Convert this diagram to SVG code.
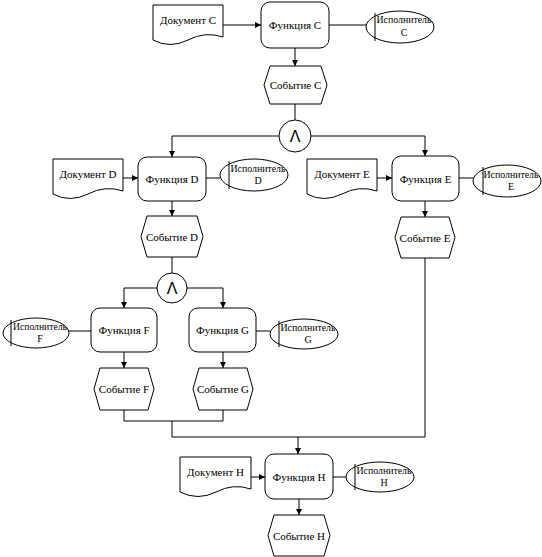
<svg xmlns="http://www.w3.org/2000/svg" width="542" height="557" viewBox="0 0 542 557">
<defs>
<marker id="ah" markerUnits="userSpaceOnUse" markerWidth="8" markerHeight="8" refX="7" refY="4" orient="auto">
<path d="M1,1 L7,4 L1,7 Z" fill="#000"/>
</marker>
<style>
.s{fill:#fff;stroke:#000;stroke-width:1}
.c{fill:none;stroke:#000;stroke-width:1}
.a{fill:none;stroke:#000;stroke-width:1;marker-end:url(#ah)}
text{font-family:"Liberation Serif","Times New Roman",serif;font-size:11px;fill:#000;text-anchor:middle}
.e{font-size:10px}
.and{font-family:"Liberation Sans",Arial,sans-serif;font-size:16px}
</style>
</defs>
<rect width="542" height="557" fill="#fff"/>
<g id="connectors">
<path class="a" d="M223,25 H261"/>
<path class="c" d="M329,25 H366"/>
<path class="a" d="M295,48 V66"/>
<path class="c" d="M295,104 V120"/>
<path class="a" d="M279,136 H172 V157"/>
<path class="a" d="M311,136 H425 V156"/>
<path class="a" d="M123,178 H138"/>
<path class="c" d="M206,178 H220"/>
<path class="a" d="M172,201 V216"/>
<path class="c" d="M172,257 V273"/>
<path class="a" d="M377,178 H392"/>
<path class="c" d="M459,178 H473"/>
<path class="a" d="M425,201 V217"/>
<path class="a" d="M157,288 H124 V308"/>
<path class="a" d="M187,288 H223 V308"/>
<path class="c" d="M69,331 H91"/>
<path class="c" d="M256,331 H270"/>
<path class="a" d="M124,352 V368"/>
<path class="a" d="M223,352 V368"/>
<path class="c" d="M124,410 V421 H223 V410"/>
<path class="c" d="M172,421 V437 H425 V258"/>
<path class="a" d="M298,437 V454"/>
<path class="a" d="M251,477 H265"/>
<path class="c" d="M333,477 H346"/>
<path class="a" d="M299,499 V515"/>
</g>
<g id="docC"><path class="s" d="M153,5 H223 V37 Q205,31 188,40 Q170,49 153,40 Z"/><text x="188" y="24">Документ C</text></g>
<g id="funcC"><rect class="s" x="261" y="2" width="68" height="46" rx="9"/><text x="295" y="29">Функция C</text></g>
<g id="execC"><ellipse class="s" cx="400" cy="27" rx="34" ry="16"/><path class="c" d="M375,13 V41"/><text class="e" x="404" y="23" textLength="55" lengthAdjust="spacingAndGlyphs">Исполнитель</text><text class="e" x="404" y="36">C</text></g>
<g id="eventC"><path class="s" d="M270,66 H321 L327,85 L321,104 H270 L264,85 Z"/><text x="295.5" y="89">Событие C</text></g>
<g id="and1"><circle class="s" cx="295" cy="136" r="16"/><text class="and" x="295" y="142">Λ</text></g>
<g id="docD"><path class="s" d="M53,159 H123 V191 Q105,185 88,194 Q70,203 53,194 Z"/><text x="88" y="178">Документ D</text></g>
<g id="funcD"><rect class="s" x="138" y="157" width="68" height="44" rx="9"/><text x="172" y="183">Функция D</text></g>
<g id="execD"><ellipse class="s" cx="254" cy="175" rx="34" ry="16"/><path class="c" d="M229,161 V189"/><text class="e" x="258" y="172" textLength="55" lengthAdjust="spacingAndGlyphs">Исполнитель</text><text class="e" x="258" y="184">D</text></g>
<g id="eventD"><path class="s" d="M147,216 H197 L203,236.5 L197,257 H147 L141,236.5 Z"/><text x="172" y="241">Событие D</text></g>
<g id="docE"><path class="s" d="M307,159 H377 V191 Q359,185 342,194 Q324,203 307,194 Z"/><text x="342" y="178">Документ E</text></g>
<g id="funcE"><rect class="s" x="392" y="156" width="67" height="45" rx="9"/><text x="425.5" y="183">Функция E</text></g>
<g id="execE"><ellipse class="s" cx="507" cy="181" rx="34" ry="16"/><path class="c" d="M483,167 V195"/><text class="e" x="511" y="178" textLength="55" lengthAdjust="spacingAndGlyphs">Исполнитель</text><text class="e" x="511" y="190">E</text></g>
<g id="eventE"><path class="s" d="M401,217 H449 L455,237.5 L449,258 H401 L395,237.5 Z"/><text x="425" y="242">Событие E</text></g>
<g id="and2"><circle class="s" cx="172" cy="288" r="15"/><text class="and" x="172" y="294">Λ</text></g>
<g id="funcF"><rect class="s" x="91" y="308" width="66" height="44" rx="9"/><text x="124" y="334">Функция F</text></g>
<g id="execF"><ellipse class="s" cx="36" cy="333" rx="33" ry="15"/><path class="c" d="M11,320 V346"/><text class="e" x="40" y="330" textLength="54" lengthAdjust="spacingAndGlyphs">Исполнитель</text><text class="e" x="40" y="342">F</text></g>
<g id="funcG"><rect class="s" x="189" y="308" width="67" height="44" rx="9"/><text x="222.5" y="334">Функция G</text></g>
<g id="execG"><ellipse class="s" cx="304" cy="334" rx="34" ry="15"/><path class="c" d="M279,321 V347"/><text class="e" x="308" y="331" textLength="55" lengthAdjust="spacingAndGlyphs">Исполнитель</text><text class="e" x="308" y="343">G</text></g>
<g id="eventF"><path class="s" d="M100,368 H148 L154,389 L148,410 H100 L94,389 Z"/><text x="124" y="393">Событие F</text></g>
<g id="eventG"><path class="s" d="M199,368 H247 L253,389 L247,410 H199 L193,389 Z"/><text x="223" y="393">Событие G</text></g>
<g id="docH"><path class="s" d="M180,457 H251 V489 Q233,483 216,492 Q198,501 180,492 Z"/><text x="215.5" y="476">Документ H</text></g>
<g id="funcH"><rect class="s" x="265" y="454" width="68" height="45" rx="9"/><text x="299" y="481">Функция H</text></g>
<g id="execH"><ellipse class="s" cx="380" cy="477" rx="34" ry="15"/><path class="c" d="M355,464 V490"/><text class="e" x="384" y="474" textLength="55" lengthAdjust="spacingAndGlyphs">Исполнитель</text><text class="e" x="384" y="486">H</text></g>
<g id="eventH"><path class="s" d="M274,515 H324 L330,535.5 L324,556 H274 L268,535.5 Z"/><text x="299" y="540">Событие H</text></g>
</svg>
